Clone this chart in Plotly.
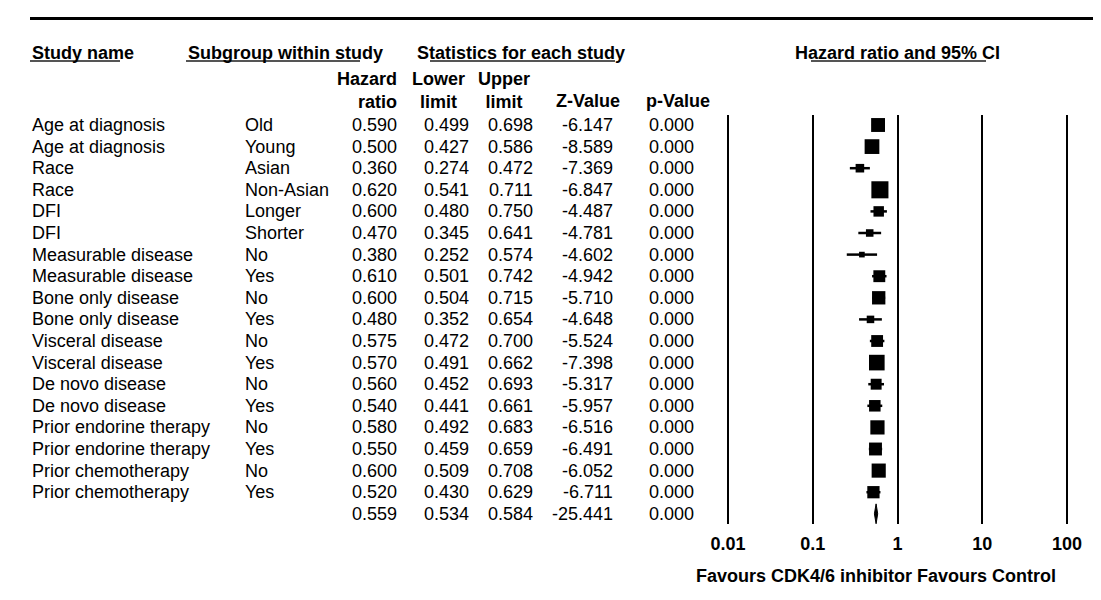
import numpy as np
import plotly.graph_objects as go

# ---------------- data ----------------
study_names = [
    "Age at diagnosis", "Age at diagnosis", "Race", "Race", "DFI", "DFI",
    "Measurable disease", "Measurable disease", "Bone only disease", "Bone only disease",
    "Visceral disease", "Visceral disease", "De novo disease", "De novo disease",
    "Prior endorine therapy", "Prior endorine therapy", "Prior chemotherapy", "Prior chemotherapy",
]
subgroups = [
    "Old", "Young", "Asian", "Non-Asian", "Longer", "Shorter", "No", "Yes", "No", "Yes",
    "No", "Yes", "No", "Yes", "No", "Yes", "No", "Yes",
]
hazard_ratio = [0.590, 0.500, 0.360, 0.620, 0.600, 0.470, 0.380, 0.610, 0.600, 0.480,
                0.575, 0.570, 0.560, 0.540, 0.580, 0.550, 0.600, 0.520]
lower_limit = [0.499, 0.427, 0.274, 0.541, 0.480, 0.345, 0.252, 0.501, 0.504, 0.352,
               0.472, 0.491, 0.452, 0.441, 0.492, 0.459, 0.509, 0.430]
upper_limit = [0.698, 0.586, 0.472, 0.711, 0.750, 0.641, 0.574, 0.742, 0.715, 0.654,
               0.700, 0.662, 0.693, 0.661, 0.683, 0.659, 0.708, 0.629]
z_value = [-6.147, -8.589, -7.369, -6.847, -4.487, -4.781, -4.602, -4.942, -5.710, -4.648,
           -5.524, -7.398, -5.317, -5.957, -6.516, -6.491, -6.052, -6.711]
p_value = [0.000] * 18

overall_hr = 0.559
overall_lower = 0.534
overall_upper = 0.584
overall_z = -25.441
overall_p = 0.000

tick_values = [0.01, 0.1, 1, 10, 100]
tick_labels = ["0.01", "0.1", "1", "10", "100"]

# ---------------- layout helpers ----------------
W, H = 1101, 600
FONT = "Liberation Sans, Arial, sans-serif"
FS = 18


def px(xp):
    return xp / W


def py(yp):
    return 1 - yp / H


ROW0, STEP = 117.0, 21.6
n = len(hazard_ratio)
rows = list(range(n))
overall_row = n

fig = go.Figure()

# CI lines
xs, ys = [], []
for i in rows:
    xs += [lower_limit[i], upper_limit[i], None]
    ys += [i, i, None]
fig.add_trace(go.Scatter(x=xs, y=ys, mode="lines", line=dict(color="black", width=2.5),
                         hoverinfo="skip", showlegend=False))

# weight boxes (inverse-variance)
lo = np.array(lower_limit)
up = np.array(upper_limit)
se = (np.log(up) - np.log(lo)) / 3.92
weight = 1 / se ** 2
box = 1.19 * np.sqrt(weight)
fig.add_trace(go.Scatter(x=hazard_ratio, y=rows, mode="markers", opacity=1,
                         marker=dict(symbol="square", size=box, color="#000000", opacity=1,
                                     line=dict(width=0, color="#000000")),
                         hoverinfo="skip", showlegend=False))

# summary diamond
fig.add_trace(go.Scatter(
    x=[overall_lower, overall_hr, overall_upper, overall_hr, overall_lower],
    y=[overall_row, overall_row - 0.46, overall_row, overall_row + 0.46, overall_row],
    mode="lines", fill="toself", fillcolor="black", line=dict(color="black", width=1),
    hoverinfo="skip", showlegend=False))

# ---------------- table text ----------------
ann = []


def add(text, x, y, xanchor, bold=False, yref="y", align="left"):
    ann.append(dict(text=("<b>%s</b>" % text) if bold else text, x=x, y=y, xref="paper",
                    yref=yref, xanchor=xanchor, yanchor="middle", showarrow=False,
                    align=align, font=dict(family=FONT, size=FS, color="black")))


col_study, col_sub = px(22), px(235)
col_hr, col_lo, col_up, col_z, col_p = px(391), px(463), px(527), px(607), px(688)

for i in rows:
    add(study_names[i], col_study, i, "left")
    add(subgroups[i], col_sub, i, "left")
    add("%.3f" % hazard_ratio[i], col_hr, i, "right")
    add("%.3f" % lower_limit[i], col_lo, i, "right")
    add("%.3f" % upper_limit[i], col_up, i, "right")
    add("%.3f" % z_value[i], col_z, i, "right")
    add("%.3f" % p_value[i], col_p, i, "right")

add("%.3f" % overall_hr, col_hr, overall_row, "right")
add("%.3f" % overall_lower, col_lo, overall_row, "right")
add("%.3f" % overall_upper, col_up, overall_row, "right")
add("%.3f" % overall_z, col_z, overall_row, "right")
add("%.3f" % overall_p, col_p, overall_row, "right")

# headers
add("Study name", px(22), py(45), "left", True, "paper")
add("Subgroup within study", px(178), py(45), "left", True, "paper")
add("Statistics for each study", px(407), py(45), "left", True, "paper")
add("Hazard ratio and 95% CI", px(785), py(45), "left", True, "paper")

add("Hazard<br>ratio", px(391), py(82), "right", True, "paper", "right")
add("Lower<br>limit", px(430), py(82), "center", True, "paper", "center")
add("Upper<br>limit", px(496), py(82), "center", True, "paper", "center")
add("Z-Value", px(614), py(93), "right", True, "paper")
add("p-Value", px(670), py(93), "center", True, "paper")

add("Favours CDK4/6 inhibitor Favours Control", px(1050), py(568), "right", True, "paper")

shapes = [
    dict(type="line", xref="paper", yref="paper", x0=px(22), x1=1, y0=py(10.5), y1=py(10.5),
         line=dict(color="black", width=3)),
]
for a, b in [(22, 112), (178, 352), (422, 607), (803, 978)]:
    shapes.append(dict(type="line", xref="paper", yref="paper", x0=px(a), x1=px(b),
                       y0=py(53), y1=py(53), line=dict(color="#555555", width=2)))

# axis geometry: 0.01 at px 720, 100 at px 1059
ppd = (1059 - 720) / 4.0
x_left, x_right = 700, 1080
log_lo = -2 - (720 - x_left) / ppd
log_hi = 2 + (x_right - 1059) / ppd

y_top, y_bot = 107, 516
r_top = (y_top - ROW0) / STEP
r_bot = (y_bot - ROW0) / STEP

fig.update_layout(
    width=W, height=H,
    margin=dict(l=0, r=0, t=0, b=0, pad=0),
    paper_bgcolor="white", plot_bgcolor="white",
    annotations=ann, shapes=shapes, showlegend=False,
    xaxis=dict(type="log", domain=[px(x_left), px(x_right)], range=[log_lo, log_hi],
               tickvals=tick_values, ticktext=["<b>%s</b>" % t for t in tick_labels],
               tickfont=dict(family=FONT, size=FS, color="black"),
               showgrid=True, gridcolor="black", gridwidth=2, zeroline=False,
               showline=False, ticks="outside", ticklen=3, tickcolor="rgba(0,0,0,0)"),
    yaxis=dict(domain=[py(y_bot), py(y_top)], range=[r_bot, r_top], showgrid=False,
               zeroline=False, showticklabels=False, showline=False),
)

fig.write_html("out.html")
